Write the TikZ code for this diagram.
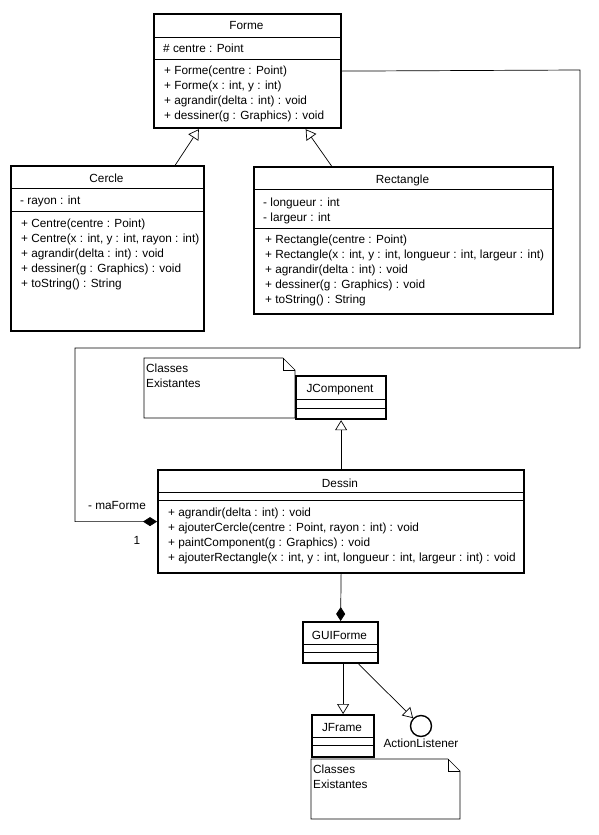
\documentclass[tikz,border=0pt]{standalone}
\usepackage{fontspec}
\setmainfont{Liberation Sans}
\usetikzlibrary{arrows,arrows.meta,shapes,positioning}

\newcommand{\umlfont}{\fontsize{11.8}{15}\selectfont}

\tikzset{
  cls/.style={draw, line width=2.2pt, anchor=north west, inner sep=0pt},
  divider/.style={line width=0.8pt},
  clsname/.style={inner sep=0pt, font=\umlfont},
  members/.style={anchor=west, inner sep=0pt, align=left, font=\umlfont},
  notebox/.style={line width=0.7pt},
  inherit/.style={-{Triangle[open,length=10pt,width=12pt]}, line width=0.7pt},
  owns/.style={-{Diamond[length=14pt,width=9pt]}, line width=0.7pt}
}

\begin{document}
\begin{tikzpicture}[x=1pt, y=-1pt]
        \useasboundingbox (0,0) rectangle (598,835);

        % Forme
        \node[cls, minimum width=187pt, minimum height=114pt] (forme) at (153,13) {};
        \node[clsname] (formeT) at (246.5,25) {Forme};
        \draw[divider] (153,37) -- (340,37) (153,59) -- (340,59);
        \node[members] (formeA) at (163,48) {\# centre : Point};
        \node[members] (formeM) at (164,94) {+ Forme(centre : Point)\\+ Forme(x : int, y : int)\\+ agrandir(delta : int) : void\\+ dessiner(g : Graphics) : void};

        % Cercle
        \node[cls, minimum width=193pt, minimum height=165pt] (cercle) at (10,165) {};
        \node[clsname] (cercleT) at (106.5,178) {Cercle};
        \draw[divider] (10,188) -- (203,188) (10,211) -- (203,211);
        \node[members] (cercleA) at (20,201) {- rayon : int};
        \node[members] (cercleM) at (21,254.5) {+ Centre(centre : Point)\\+ Centre(x : int, y : int, rayon : int)\\+ agrandir(delta : int) : void\\+ dessiner(g : Graphics) : void\\+ toString() : String};

        % Rectangle
        \node[cls, minimum width=299pt, minimum height=147pt] (rect) at (253,166) {};
        \node[clsname] (rectT) at (402.5,180) {Rectangle};
        \draw[divider] (253,189) -- (552,189) (253,228) -- (552,228);
        \node[members] (rectA) at (263,210.5) {- longueur : int\\- largeur : int};
        \node[members] (rectM) at (265,270.5) {+ Rectangle(centre : Point)\\+ Rectangle(x : int, y : int, longueur : int, largeur : int)\\+ agrandir(delta : int) : void\\+ dessiner(g : Graphics) : void\\+ toString() : String};

        \draw[inherit] (cercle.51) -- (forme.230);
        \draw[inherit] (rect.134) -- (forme.-45);

        % classes existantes (haut)
        \draw[notebox] (144,358) -- (283,358) -- (295,370) -- (295,418) -- (144,418) -- cycle;
        \draw[notebox] (283,358) -- (283,370) -- (295,370);
        \node[members] (note1) at (146,375.5) {Classes\\Existantes};

        % JComponent
        \node[cls, fill=white, minimum width=90pt, minimum height=43pt] (jcomp) at (295,375) {};
        \node[clsname] (jcompT) at (340,390) {JComponent};
        \draw[divider] (295,399) -- (385,399) (295,408) -- (385,408);

        % Dessin
        \node[cls, minimum width=366pt, minimum height=103pt] (dessin) at (157,469) {};
        \node[clsname] (dessinT) at (340,483) {Dessin};
        \draw[divider] (157,492) -- (523,492) (157,500) -- (523,500);
        \node[members] (dessinM) at (168,536) {+ agrandir(delta : int) : void\\+ ajouterCercle(centre : Point, rayon : int) : void\\+ paintComponent(g : Graphics) : void\\+ ajouterRectangle(x : int, y : int, longueur : int, largeur : int) : void};

        \draw[inherit] (dessin.north) -- (jcomp.south);
        \draw[owns] (forme.east) -- (580,70) -- (580,348) -- (75,348) |- (dessin.west);
        \node[clsname] (role) at (117,505) {- maForme};
        \node[clsname] (mult) at (137,540) {1};

        % GUIForme
        \node[cls, minimum width=75pt, minimum height=41pt] (guiforme) at (302,621) {};
        \node[clsname] (guiformeT) at (339.5,635) {GUIForme};
        \draw[divider] (302,644) -- (377,644) (302,652) -- (377,652);
        \draw[owns] (dessin.south) -- (guiforme.north);

        % JFrame
        \node[cls, minimum width=62pt, minimum height=42pt] (jframe) at (311,714) {};
        \node[clsname] (jframeT) at (342,727) {JFrame};
        \draw[divider] (311,737) -- (373,737) (311,745) -- (373,745);
        \draw[inherit] (guiforme.south -| jframe.north) -- (jframe.north);

        % ActionListener
        \node[draw, circle, line width=1.4pt, minimum size=21pt, inner sep=0pt,
              label={[font=\umlfont, inner sep=0pt, label distance=2pt]below:ActionListener}] (iface) at (421,726) {};
        \draw[inherit] (guiforme.-50) -- (iface);

        % classes existantes (bas)
        \draw[notebox] (311,759) -- (448,759) -- (460,771) -- (460,819) -- (311,819) -- cycle;
        \draw[notebox] (448,759) -- (448,771) -- (460,771);
        \node[members] (note2) at (313,776.5) {Classes\\Existantes};

    \end{tikzpicture}
\end{document}
